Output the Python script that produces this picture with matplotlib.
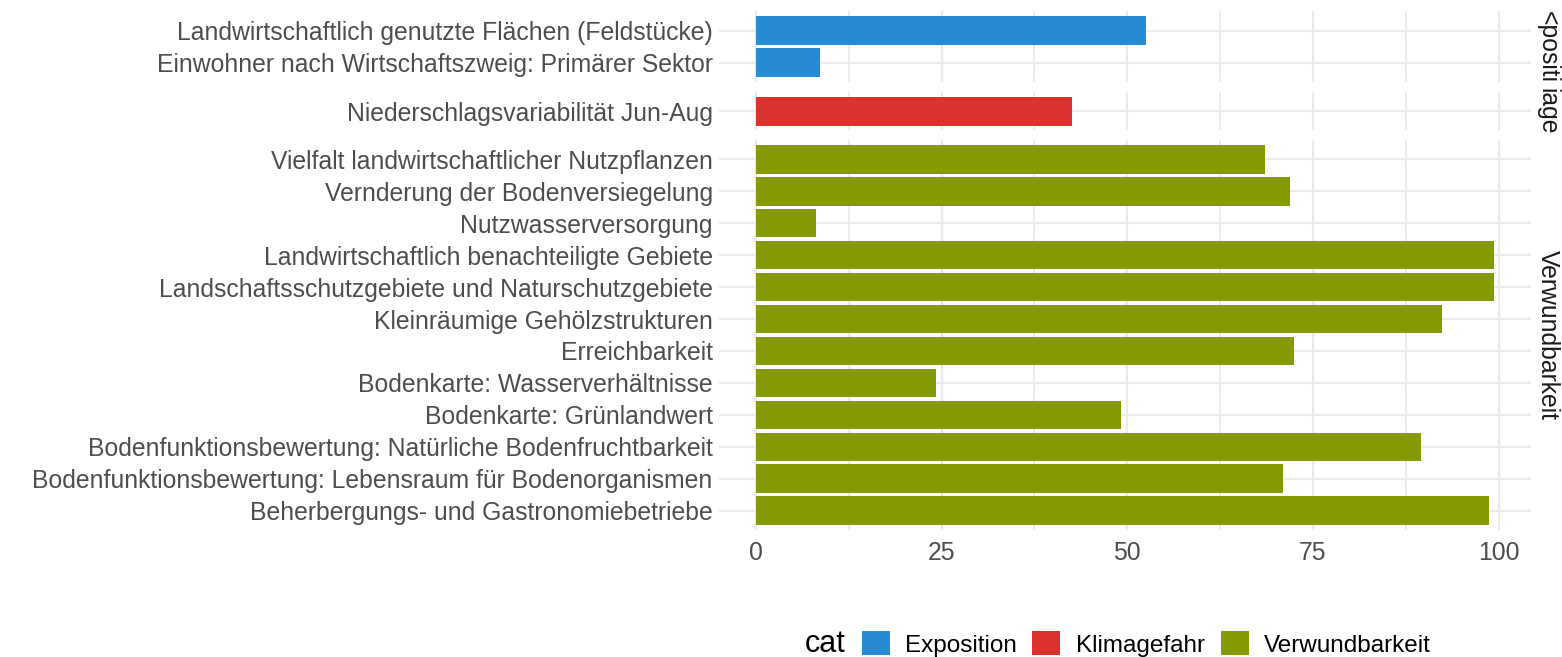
import matplotlib.pyplot as plt
from matplotlib.patches import Patch

plt.rcParams["font.family"] = ["Liberation Sans", "DejaVu Sans"]

# data
cats = ["Exposition", "Klimagefahr", "Verwundbarkeit"]
colors = ["#268BD2", "#DC322F", "#859900"]
strip_labels = ["<positi", "iage", "Verwundbarkeit"]

labels_expo = [
    "Landwirtschaftlich genutzte Flächen (Feldstücke)",
    "Einwohner nach Wirtschaftszweig: Primärer Sektor",
]
values_expo = [52.5, 8.6]

labels_klima = ["Niederschlagsvariabilität Jun-Aug"]
values_klima = [42.5]

labels_verw = [
    "Vielfalt landwirtschaftlicher Nutzpflanzen",
    "Vernderung der Bodenversiegelung",
    "Nutzwasserversorgung",
    "Landwirtschaftlich benachteiligte Gebiete",
    "Landschaftsschutzgebiete und Naturschutzgebiete",
    "Kleinräumige Gehölzstrukturen",
    "Erreichbarkeit",
    "Bodenkarte: Wasserverhältnisse",
    "Bodenkarte: Grünlandwert",
    "Bodenfunktionsbewertung: Natürliche Bodenfruchtbarkeit",
    "Bodenfunktionsbewertung: Lebensraum für Bodenorganismen",
    "Beherbergungs- und Gastronomiebetriebe",
]
values_verw = [68.6, 71.9, 8.1, 99.4, 99.4, 92.4, 72.4, 24.3, 49.2, 89.6, 71.0, 98.7]

x_ticks = [0, 25, 50, 75, 100]
x_minor = [12.5, 37.5, 62.5, 87.5]

W, H = 1562, 657
fig = plt.figure(figsize=(W / 100, H / 100), dpi=100)

px0, px1 = 719, 1531
panel_y = [(11.3, 82.2), (92.0, 130.4), (140.0, 530.0)]
groups = [
    (labels_expo, values_expo),
    (labels_klima, values_klima),
    (labels_verw, values_verw),
]

xmax = max(values_verw + values_expo + values_klima)
xlim = (-0.05 * xmax, 1.05 * xmax)
fs = 17.8
grid_col = "#EBEBEB"

for i, ((labels, values), (y0, y1)) in enumerate(zip(groups, panel_y)):
    ax = fig.add_axes([px0 / W, 1 - y1 / H, (px1 - px0) / W, (y1 - y0) / H])
    n = len(labels)
    ypos = list(range(n - 1, -1, -1))
    ax.barh(ypos, values, height=0.9, color=colors[i], zorder=3)
    ax.set_ylim(-0.6, n - 1 + 0.6)
    ax.set_xlim(*xlim)
    ax.set_yticks(ypos)
    ax.set_yticklabels(labels, fontsize=fs, color="#4D4D4D")
    ax.set_xticks(x_ticks)
    ax.set_xticks(x_minor, minor=True)
    ax.grid(which="major", axis="both", color=grid_col, linewidth=1.6, zorder=0)
    ax.grid(which="minor", axis="x", color=grid_col, linewidth=1.3, zorder=0)
    ax.set_axisbelow(True)
    for s in ax.spines.values():
        s.set_visible(False)
    ax.tick_params(which="both", length=0, pad=4.5)
    if i == 2:
        ax.set_xticklabels([str(t) for t in x_ticks], fontsize=fs, color="#4D4D4D")
        ax.tick_params(axis="x", pad=8)
    else:
        ax.set_xticklabels([])

    # facet strip on the right
    sx = fig.add_axes([1533 / W, 1 - y1 / H, 29 / W, (y1 - y0) / H])
    sx.set_xticks([])
    sx.set_yticks([])
    for s in sx.spines.values():
        s.set_visible(False)
    sx.patch.set_alpha(0)
    sx.text(0.5, 0.5, strip_labels[i], rotation=270, ha="center", va="center",
            fontsize=fs, color="#1A1A1A", transform=sx.transAxes, clip_on=False)

handles = [Patch(facecolor=c, edgecolor="none") for c in colors]
fig.legend(handles, cats, loc="center", bbox_to_anchor=(1146 / W, 1 - 644 / H),
           ncol=3, frameon=False, fontsize=17.5, handlelength=1.15,
           handleheight=1.15, handletextpad=0.62, columnspacing=0.66,
           borderpad=0, borderaxespad=0)
fig.text(805 / W, 1 - 644 / H, "cat", fontsize=22, ha="left", va="center", color="black")

fig.savefig("out.png", dpi=100, facecolor="white")
